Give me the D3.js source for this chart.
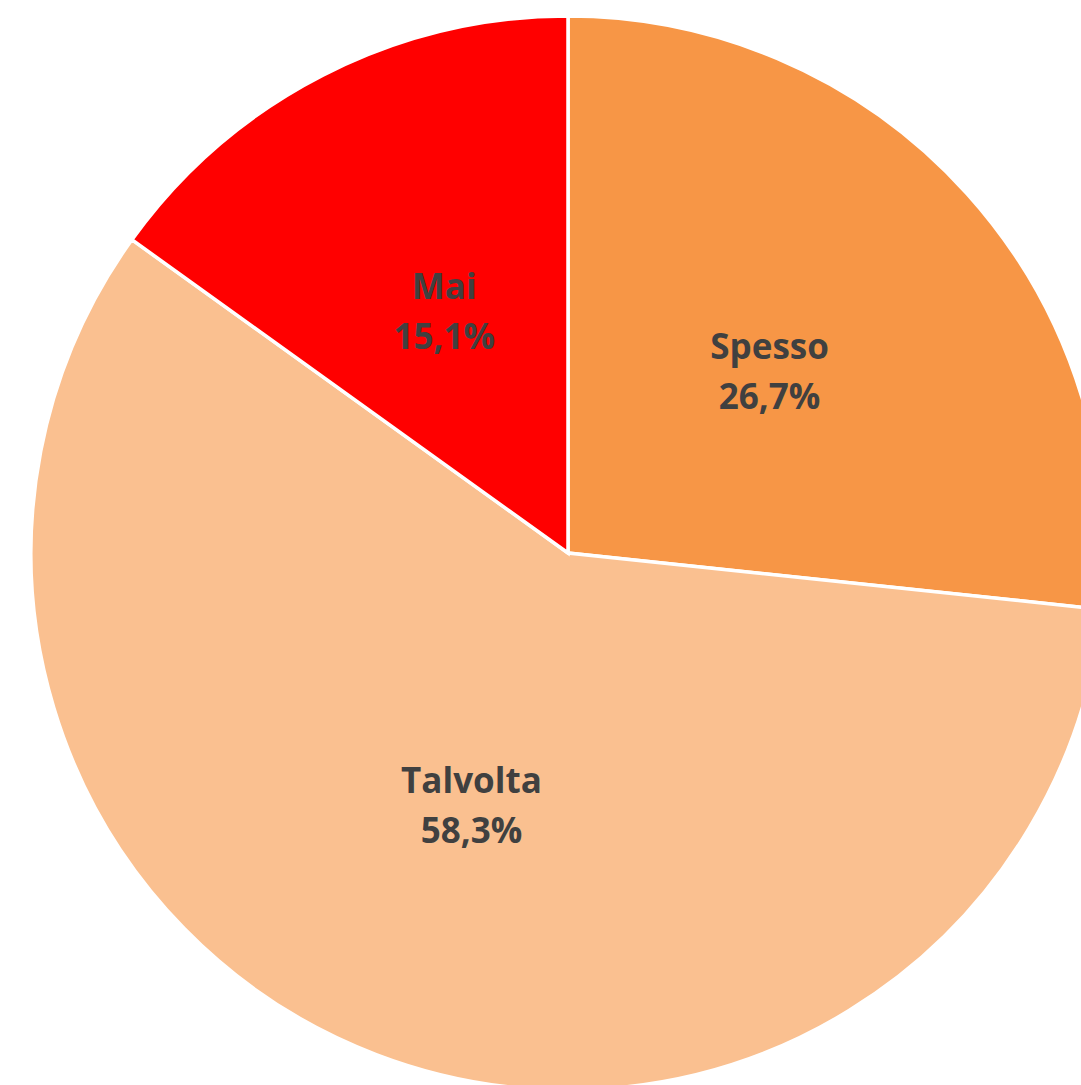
<!DOCTYPE html>
<html>
<head>
<meta charset="utf-8">
<script src="https://cdn.jsdelivr.net/npm/d3@7"></script>
<style>
  html, body { margin: 0; padding: 0; background: #ffffff; overflow: hidden; }
  svg { display: block; }
</style>
</head>
<body>
<svg id="chart" width="1081" height="1085"></svg>
<script>
// Survey answer categories and their shares (%)
const categories = ["Spesso", "Talvolta", "Mai"];
const values = [26.7, 58.3, 15.1];
const valueLabels = ["26,7%", "58,3%", "15,1%"];
const colors = ["#F79646", "#FAC090", "#FF0000"];

const svg = d3.select("#chart");
const cx = 568, cy = 553, radius = 537;

const data = categories.map((c, i) => ({ name: c, value: values[i], label: valueLabels[i], color: colors[i] }));

const pie = d3.pie().value(d => d.value).sort(null);
const arcs = pie(data);
const arc = d3.arc().innerRadius(0).outerRadius(radius);
// labels sit halfway out along each slice's bisector
const labelArc = d3.arc().innerRadius(radius * 0.505).outerRadius(radius * 0.505);

const g = svg.append("g").attr("transform", `translate(${cx},${cy})`);

g.selectAll("path.slice")
  .data(arcs)
  .join("path")
  .attr("class", "slice")
  .attr("d", arc)
  .attr("fill", d => d.data.color)
  .attr("stroke", "#ffffff")
  .attr("stroke-width", 3.5)
  .attr("stroke-linejoin", "miter");

const labels = g.selectAll("g.label")
  .data(arcs)
  .join("g")
  .attr("class", "label")
  .attr("transform", d => `translate(${labelArc.centroid(d)})`);

labels.append("text")
  .attr("text-anchor", "middle")
  .attr("y", -13)
  .attr("font-family", "'Open Sans', sans-serif")
  .attr("font-weight", 700)
  .attr("font-size", 35)
  .attr("fill", "#404040")
  .text(d => d.data.name);

labels.append("text")
  .attr("text-anchor", "middle")
  .attr("y", 37)
  .attr("font-family", "'Open Sans', sans-serif")
  .attr("font-weight", 700)
  .attr("font-size", 35)
  .attr("fill", "#404040")
  .text(d => d.data.label);
</script>
</body>
</html>
